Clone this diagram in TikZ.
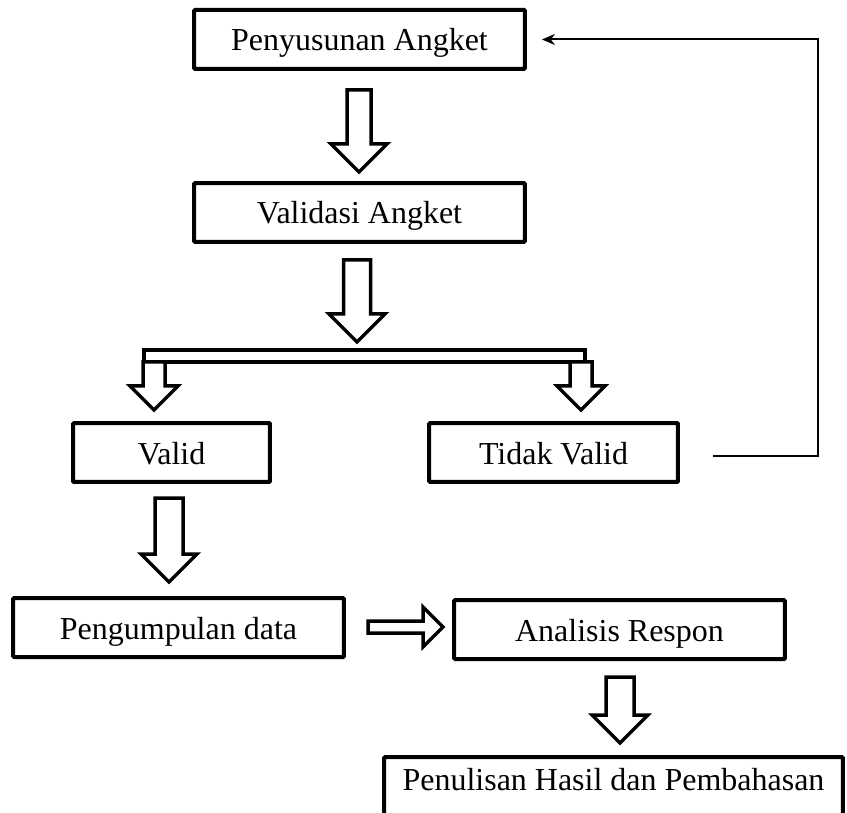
\documentclass[tikz,border=0pt]{standalone}
\usepackage{fontspec}
\setmainfont{Liberation Serif}
\usetikzlibrary{arrows.meta}

% hollow block arrows: centre, start, tip, half shaft, half head
\newcommand{\blkdown}[5]{%
  \draw[blk] (#1-#4,#2) -- (#1-#4,#3-#5) -- (#1-#5,#3-#5) -- (#1,#3)
    -- (#1+#5,#3-#5) -- (#1+#4,#3-#5) -- (#1+#4,#2) -- cycle;}
\newcommand{\blkright}[5]{%
  \draw[blk] (#2,#1-#4) -- (#3-#5,#1-#4) -- (#3-#5,#1-#5) -- (#3,#1)
    -- (#3-#5,#1+#5) -- (#3-#5,#1+#4) -- (#2,#1+#4) -- cycle;}

\tikzset{
  stepbox/.style={draw, line width=0.08cm, rounded corners=0.6pt, inner sep=0pt,
    anchor=base, text height=0.82cm, text depth=0.36cm, align=center,
    font=\fontsize{18.2}{22}\selectfont},
  blk/.style={draw, fill=white, line width=0.07cm, line join=miter},
  fb/.style={line width=0.04cm, -{Stealth[length=0.26cm, width=0.22cm]}}
}

\begin{document}
\begin{tikzpicture}[x=0.02cm, y=-0.02cm]
    \useasboundingbox (0,0) rectangle (847,813);
    % boxes
    \node[stepbox, minimum width=6.62cm] (pa) at (359.5,51) {Penyusunan Angket};
    \node[stepbox, minimum width=6.62cm] (va) at (359.5,224) {Validasi Angket};
    \node[stepbox, minimum width=3.94cm] (v) at (171.5,464) {Valid};
    \node[stepbox, minimum width=4.98cm] (tv) at (553.5,464) {Tidak Valid};
    \node[stepbox, minimum width=6.62cm] (pd) at (178.5,639) {Pengumpulan data};
    \node[stepbox, minimum width=6.62cm] (ar) at (619.5,641) {Analisis Respon};
    \node[stepbox, minimum width=9.18cm, text height=0.66cm, text depth=0.8cm] (pw) at (613.5,790) {Penulisan Hasil dan Pembahasan};
    % block arrows
    \blkdown{359}{90}{172}{12}{28}
    \blkdown{357}{260}{342}{13.5}{28}
    % split bar
    \draw[line width=0.08cm] (144,350) rectangle (585,362);
    \blkdown{154}{362}{410}{11}{24}
    \blkdown{581}{362}{410}{11}{24}
    \blkdown{169}{498}{582}{14}{28}
    \blkright{627}{368}{443}{6}{20}
    \blkdown{620}{677}{743}{14}{28}
    % back to the start
    \draw[fb] ([xshift=0.66cm, yshift=-0.07cm]tv.east) -- ++(105,0) |- ([xshift=0.3cm]pa.east);
\end{tikzpicture}
\end{document}
